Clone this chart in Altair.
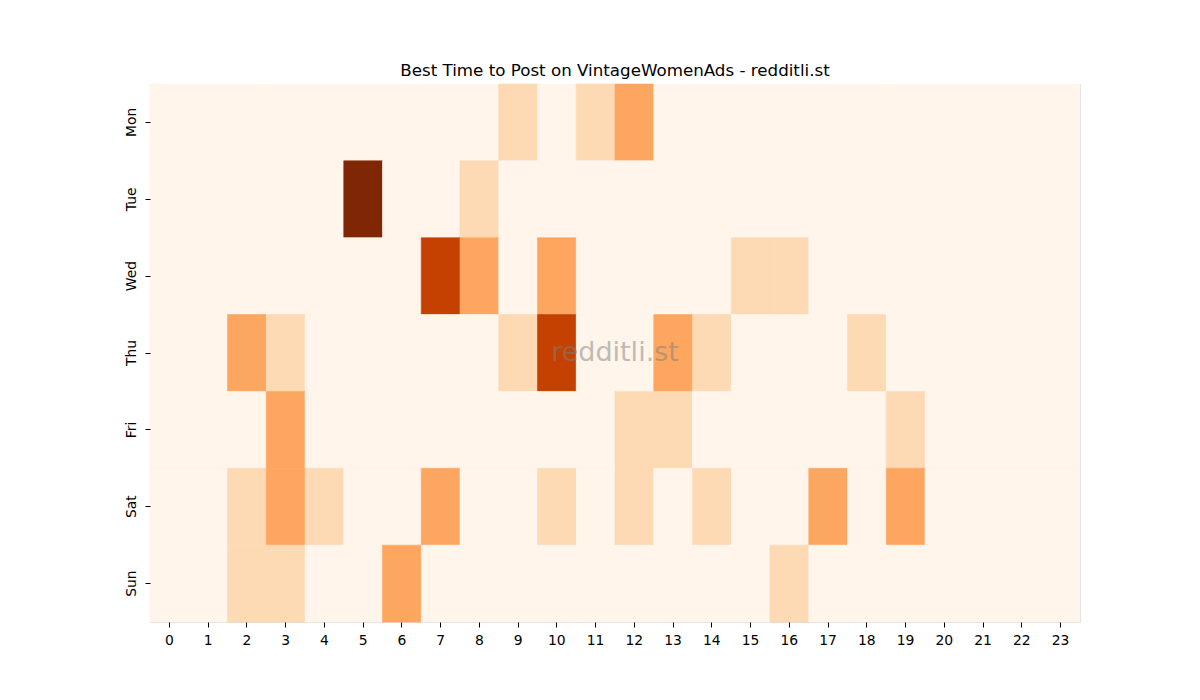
import altair as alt
import pandas as pd

days = ["Mon", "Tue", "Wed", "Thu", "Fri", "Sat", "Sun"]
hours = list(range(24))

# Non-zero cells per day: {hour: value}
mon = {9: 1, 11: 1, 12: 2}
tue = {5: 5, 8: 1}
wed = {7: 4, 8: 2, 10: 2, 15: 1, 16: 1}
thu = {2: 2, 3: 1, 9: 1, 10: 4, 13: 2, 14: 1, 18: 1}
fri = {3: 2, 12: 1, 13: 1, 19: 1}
sat = {2: 1, 3: 2, 4: 1, 7: 2, 10: 1, 12: 1, 14: 1, 17: 2, 19: 2}
sun = {2: 1, 3: 1, 6: 2, 16: 1}
day_values = [mon, tue, wed, thu, fri, sat, sun]

rows = []
for d, vals in zip(days, day_values):
    for h in hours:
        rows.append({"day": d, "hour": h, "count": vals.get(h, 0)})
df = pd.DataFrame(rows)

font = "DejaVu Sans"
cscale = alt.Scale(domain=[0, 1, 2, 4, 5],
                   range=["#fff5eb", "#fdd9b4", "#fda660", "#c54102", "#7f2704"])

heat = alt.Chart(df).mark_rect(strokeWidth=0.6).encode(
    x=alt.X("hour:O", sort=hours, title=None,
            scale=alt.Scale(paddingInner=0, paddingOuter=0),
            axis=alt.Axis(labelAngle=0, domain=False, ticks=True, tickSize=5,
                          tickColor="black", labelPadding=6, labelFontSize=13.9,
                          labelColor="black", labelFont=font, grid=False)),
    y=alt.Y("day:O", sort=days, title=None,
            scale=alt.Scale(paddingInner=0, paddingOuter=0),
            axis=alt.Axis(labelAngle=-90, labelAlign="center", labelBaseline="bottom",
                          domain=False, ticks=True, tickSize=5, tickColor="black",
                          labelPadding=7, labelFontSize=13.9, labelColor="black",
                          labelFont=font, grid=False)),
    color=alt.Color("count:Q", legend=None, scale=cscale),
    stroke=alt.Stroke("count:Q", legend=None, scale=cscale),
)

wm = alt.Chart(pd.DataFrame({"t": ["redditli.st"]})).mark_text(
    font=font, fontSize=27, color="gray", opacity=0.5, align="center", baseline="middle"
).encode(text="t:N", x=alt.value(465), y=alt.value(269))

chart = alt.layer(heat, wm).properties(
    width=930, height=538,
    title=alt.TitleParams("Best Time to Post on VintageWomenAds - redditli.st",
                          font=font, fontSize=16.7, fontWeight="normal", color="black",
                          anchor="middle", offset=4),
    autosize="none",
    padding={"left": 150, "top": 84, "right": 120, "bottom": 78},
).configure_view(stroke=None).configure(background="white")

chart.save("out.html", embed_options={"renderer": "svg", "actions": False})
